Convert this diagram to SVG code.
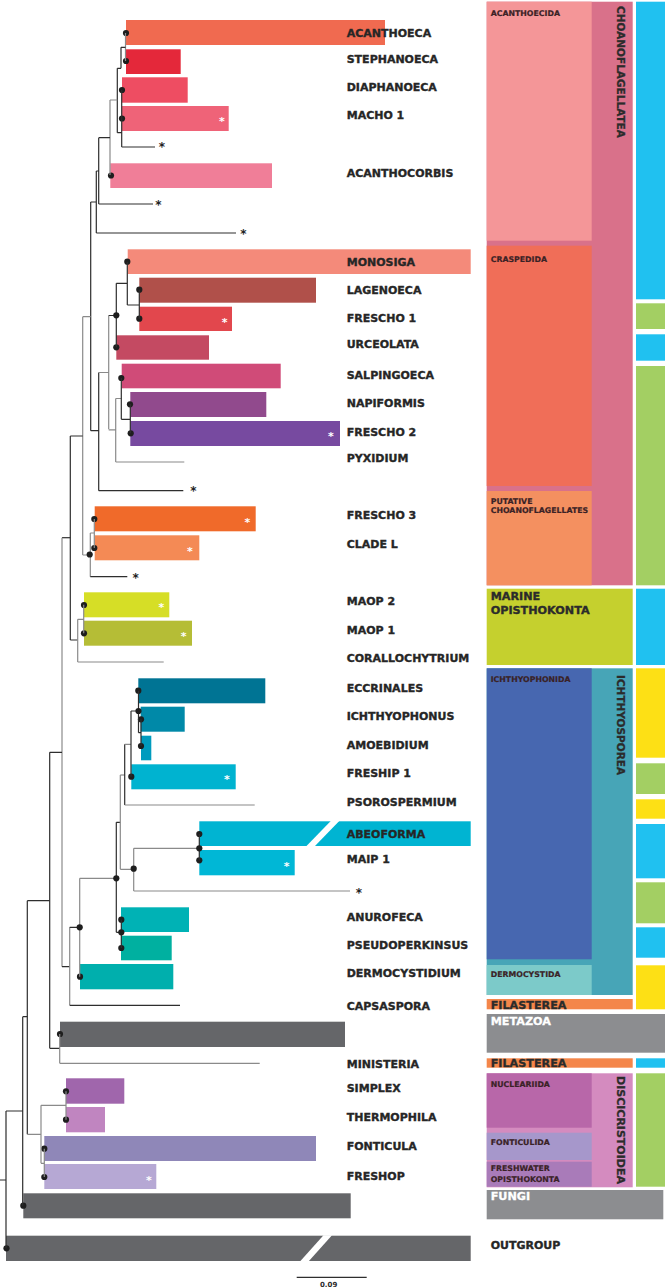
<svg xmlns="http://www.w3.org/2000/svg" width="665" height="1288" viewBox="0 0 665 1288">
<style>
.lab{font-family:"DejaVu Sans",Verdana,sans-serif;font-weight:bold;font-size:11px;fill:#262626;stroke:#262626;stroke-width:0.35}
.sm{font-family:"DejaVu Sans",Verdana,sans-serif;font-weight:bold;font-size:7.8px;fill:#3a2226;stroke:#3a2226;stroke-width:0.2}
.big{font-family:"DejaVu Sans",Verdana,sans-serif;font-weight:bold;font-size:11.2px;fill:#2b2b2b;stroke:#2b2b2b;stroke-width:0.35}
.wb{font-family:"DejaVu Sans",Verdana,sans-serif;font-weight:bold;font-size:11.2px;fill:#ffffff;stroke:#ffffff;stroke-width:0.3}
.vt{font-family:"DejaVu Sans",Verdana,sans-serif;font-weight:bold;font-size:10.5px;fill:#2b2b2b;stroke:#2b2b2b;stroke-width:0.3}
.ws{font-family:"DejaVu Sans",Verdana,sans-serif;font-weight:bold;font-size:11px;fill:#ffffff;text-anchor:middle}
.bs{font-family:"DejaVu Sans",Verdana,sans-serif;font-weight:bold;font-size:12px;fill:#222;text-anchor:middle}
.d{stroke:#2e2e2e;stroke-width:1.2;fill:none}
.g{stroke:#8a8a8a;stroke-width:1.2;fill:none}
.dot{fill:#1e1e1e}
.gray{fill:#656669}
</style>
<rect x="0" y="0" width="665" height="1288" fill="#ffffff"/>

<!-- bars and leaf nodes -->
<g id="acanthoeca"><rect x="126" y="20" width="259" height="25" fill="#F06A50"/><circle class="dot" cx="126" cy="33" r="3.1"/><text class="lab" x="346.7" y="37.3">ACANTHOECA</text></g>
<g id="stephanoeca"><rect x="126" y="49.3" width="54.7" height="24.7" fill="#E4283A"/><circle class="dot" cx="126" cy="61" r="3.1"/><text class="lab" x="346.7" y="62.7">STEPHANOECA</text></g>
<g id="diaphanoeca"><rect x="122" y="77.3" width="65.7" height="25.4" fill="#EE4D62"/><circle class="dot" cx="122" cy="90" r="3.1"/><text class="lab" x="346.7" y="90.7">DIAPHANOECA</text></g>
<g id="macho1"><rect x="122" y="106" width="106.7" height="25" fill="#EF6378"/><circle class="dot" cx="122" cy="118.5" r="3.1"/><text class="ws" x="222" y="125">*</text><text class="lab" x="346.7" y="119.3">MACHO 1</text></g>
<g id="acanthocorbis"><rect x="110.3" y="163.3" width="161.7" height="24.7" fill="#F07E98"/><circle class="dot" cx="111" cy="175.5" r="3.1"/><text class="lab" x="346.7" y="176.7">ACANTHOCORBIS</text></g>
<g id="monosiga"><rect x="127.7" y="249.3" width="343" height="24.7" fill="#F48A7A"/><circle class="dot" cx="127.3" cy="261.7" r="3.1"/><text class="lab" x="346.7" y="265.7">MONOSIGA</text></g>
<g id="lagenoeca"><rect x="139.3" y="277.7" width="176.7" height="25" fill="#B0504A"/><circle class="dot" cx="139.3" cy="289.7" r="3.1"/><text class="lab" x="346.7" y="294">LAGENOECA</text></g>
<g id="frescho1"><rect x="139.3" y="306.7" width="92.7" height="24.3" fill="#E2474D"/><circle class="dot" cx="139.3" cy="318.7" r="3.1"/><text class="ws" x="224.7" y="325.5">*</text><text class="lab" x="346.7" y="322.3">FRESCHO 1</text></g>
<g id="urceolata"><rect x="116.3" y="335.3" width="92.7" height="24.4" fill="#C44A62"/><circle class="dot" cx="116.3" cy="347.3" r="3.1"/><text class="lab" x="346.7" y="348.3">URCEOLATA</text></g>
<g id="salpingoeca"><rect x="121.7" y="363.7" width="159" height="24.6" fill="#D04B78"/><circle class="dot" cx="121.3" cy="378" r="3.1"/><text class="lab" x="346.7" y="378.5">SALPINGOECA</text></g>
<g id="napiformis"><rect x="130.3" y="392" width="136" height="25" fill="#914A8D"/><circle class="dot" cx="130" cy="404.3" r="3.1"/><text class="lab" x="346.7" y="407">NAPIFORMIS</text></g>
<g id="frescho2"><rect x="130.3" y="421" width="209.7" height="25" fill="#774AA0"/><circle class="dot" cx="130.7" cy="433.3" r="3.1"/><text class="ws" x="331" y="440">*</text><text class="lab" x="346.7" y="436.3">FRESCHO 2</text></g>
<g id="pyxidium"><text class="lab" x="346.7" y="461.7">PYXIDIUM</text></g>
<g id="frescho3"><rect x="94.7" y="506.3" width="161" height="25" fill="#F06A2A"/><circle class="dot" cx="94.3" cy="519" r="3.1"/><text class="ws" x="247.3" y="526.2">*</text><text class="lab" x="346.7" y="519.3">FRESCHO 3</text></g>
<g id="cladel"><rect x="94.7" y="535.3" width="104.6" height="25" fill="#F48A55"/><circle class="dot" cx="94.3" cy="548" r="3.1"/><text class="ws" x="190" y="555.2">*</text><text class="lab" x="346.7" y="548.3">CLADE L</text></g>
<g id="maop2"><rect x="84" y="592.3" width="85.3" height="25" fill="#D6DE26"/><circle class="dot" cx="84" cy="605" r="3.1"/><text class="ws" x="161.3" y="611.2">*</text><text class="lab" x="346.7" y="605.3">MAOP 2</text></g>
<g id="maop1"><rect x="84" y="620.7" width="108" height="25" fill="#B5BD36"/><circle class="dot" cx="84" cy="633.3" r="3.1"/><text class="ws" x="183.7" y="640.2">*</text><text class="lab" x="346.7" y="634.3">MAOP 1</text></g>
<g id="corallochytrium"><text class="lab" x="346.7" y="661.7">CORALLOCHYTRIUM</text></g>
<g id="eccrinales"><rect x="138.3" y="678.3" width="127" height="25" fill="#007494"/><circle class="dot" cx="138.3" cy="690.7" r="3.1"/><text class="lab" x="346.7" y="691.7">ECCRINALES</text></g>
<g id="ichthyophonus"><rect x="140.7" y="706.7" width="44" height="25" fill="#0089A8"/><circle class="dot" cx="141" cy="719.3" r="3.1"/><text class="lab" x="346.7" y="720.3">ICHTHYOPHONUS</text></g>
<g id="amoebidium"><rect x="141" y="735.7" width="10.3" height="24.6" fill="#009BBE"/><circle class="dot" cx="141" cy="746" r="3.1"/><text class="lab" x="346.7" y="748.7">AMOEBIDIUM</text></g>
<g id="freship1"><rect x="131.3" y="764.3" width="104.4" height="25" fill="#00B3D0"/><circle class="dot" cx="131.3" cy="776.7" r="3.1"/><text class="ws" x="227" y="783.2">*</text><text class="lab" x="346.7" y="777.3">FRESHIP 1</text></g>
<g id="psorospermium"><text class="lab" x="346.7" y="806">PSOROSPERMIUM</text></g>
<g id="abeoforma"><rect x="199.3" y="821.3" width="271.4" height="24.7" fill="#00B4D2"/><polygon points="306,846.5 314.5,846.5 339.5,820.8 331,820.8" fill="#ffffff"/><circle class="dot" cx="199.3" cy="834" r="3.1"/><text class="lab" x="346.7" y="837.7">ABEOFORMA</text></g>
<g id="maip1"><rect x="199.3" y="850" width="95.4" height="25.3" fill="#00B7D6"/><circle class="dot" cx="199.3" cy="860.3" r="3.1"/><text class="ws" x="286.7" y="869.5">*</text><text class="lab" x="346.7" y="863.3">MAIP 1</text></g>
<g id="anurofeca"><rect x="121" y="907.3" width="68" height="24.7" fill="#00B2B5"/><circle class="dot" cx="121.3" cy="919.7" r="3.1"/><text class="lab" x="346.7" y="920.7">ANUROFECA</text></g>
<g id="pseudoperkinsus"><rect x="121" y="935.7" width="50.7" height="24.6" fill="#00B0A0"/><circle class="dot" cx="121.3" cy="948" r="3.1"/><text class="lab" x="346.7" y="949">PSEUDOPERKINSUS</text></g>
<g id="dermocystidium"><rect x="80" y="964" width="93.3" height="25.3" fill="#00AFAD"/><circle class="dot" cx="80" cy="976.7" r="3.1"/><text class="lab" x="346.7" y="977.3">DERMOCYSTIDIUM</text></g>
<g id="capsaspora"><text class="lab" x="346.7" y="1009.7">CAPSASPORA</text></g>
<g id="metazoa-bar"><rect class="gray" x="60" y="1021.7" width="285" height="25.3"/><circle class="dot" cx="60" cy="1034" r="3.1"/></g>
<g id="ministeria"><text class="lab" x="346.7" y="1068">MINISTERIA</text></g>
<g id="simplex"><rect x="66" y="1078.3" width="58.3" height="25.4" fill="#A066AC"/><circle class="dot" cx="66" cy="1091.3" r="3.1"/><text class="lab" x="346.7" y="1092.3">SIMPLEX</text></g>
<g id="thermophila"><rect x="66" y="1107" width="39" height="25.3" fill="#C085C0"/><circle class="dot" cx="66" cy="1119.7" r="3.1"/><text class="lab" x="346.7" y="1120.7">THERMOPHILA</text></g>
<g id="fonticula"><rect x="44.3" y="1136" width="271.7" height="25" fill="#8F87B8"/><circle class="dot" cx="44.3" cy="1148.7" r="3.1"/><text class="lab" x="346.7" y="1149.7">FONTICULA</text></g>
<g id="freshop"><rect x="44.3" y="1164" width="112" height="25" fill="#B6A8D4"/><circle class="dot" cx="44.3" cy="1177" r="3.1"/><text class="ws" x="149" y="1184.2">*</text><text class="lab" x="346.7" y="1179.7">FRESHOP</text></g>
<g id="fungi-bar"><rect class="gray" x="23.3" y="1193.3" width="327.4" height="25"/><circle class="dot" cx="23.3" cy="1205.7" r="3.1"/></g>
<g id="outgroup"><rect class="gray" x="6" y="1235.7" width="464.7" height="25.3"/><polygon points="300,1261.5 308.5,1261.5 332,1235.2 323.5,1235.2" fill="#ffffff"/><circle class="dot" cx="6.5" cy="1248.3" r="3.1"/><text class="lab" x="490.7" y="1249">OUTGROUP</text></g>

<!-- unlabeled tips -->
<g id="tips">
<text class="bs" x="162" y="151.4">*</text>
<text class="bs" x="158.3" y="209">*</text>
<text class="bs" x="243.3" y="237.7">*</text>
<text class="bs" x="193.3" y="495">*</text>
<text class="bs" x="135.7" y="582">*</text>
<text class="bs" x="359" y="896.7">*</text>
</g>

<!-- connectors -->
<g id="connectors">
<path class="g" d="M125.5 33V61"/>
<path class="d" d="M121 47.3H125.5M121 47.3V68.3M117.3 68.3H121M117.3 68.3V132.7M117.3 132.7H121.7M121.7 90V147M121.7 147H155"/>
<path class="g" d="M110 100H117.3M110 100V175"/>
<path class="d" d="M98.7 137.7H110M98.7 137.7V204M98.7 204H153M96.3 171H98.7M96.3 171V233M96.3 233H236M90.7 202H96.3"/>
<path class="d" d="M90.7 202V430.7M90.7 430.7H98.7M98.7 372.5V490.7M98.7 490.7H183.3"/>
<path class="g" d="M82.7 316.7H90.7M98.7 372.5H108.7M108.7 315.5V429.3"/>
<path class="d" d="M108.7 315.5H116.3M116.3 283.3V347.3M116.3 283.3H127.3M127.3 261.7V305M127.3 305H139.3M139.3 289.7V318.7"/>
<path class="g" d="M108.7 429.8H115.7M115.7 398.5V462M115.7 462H184.3M115.7 398.5H121.3"/>
<path class="d" d="M121.3 378V419.3M121.3 419.3H130.3M130.3 404.3V433.3"/>
<path class="g" d="M82.7 316.7V555M82.7 555H90.3M90.3 533V576.7M90.3 533H94.3M94.3 519V548"/>
<path class="d" d="M90.3 576.7H127.3"/>
<path class="d" d="M70.3 436H82.7M70.3 436V640M70.3 640H77.7"/>
<path class="g" d="M77.7 619.3V662M77.7 619.3H83.7M83.7 604.7V633.3M77.7 662H163.7"/>
<path class="d" d="M62 537.7H70.3"/>
<path class="g" d="M62 537.7V966.7"/>
<path class="d" d="M49.7 752.3H62M62 966.7H69.7"/>
<path class="g" d="M69.7 927.3V1005.3"/>
<path class="d" d="M69.7 1005.3H180M69.7 927.3H79.7"/>
<path class="g" d="M79.7 878.3V976.7M79.7 878.3H116.3"/>
<path class="d" d="M116.3 822.3V932.3M116.3 932.3H121.3M121.3 919.7V948M116.3 822.3H120.3"/>
<path class="g" d="M120.3 775V869.3M120.3 869.3H133.7M133.7 848.3V891M133.7 891H350M133.7 848.3H199.3"/>
<path class="d" d="M199.3 834V860.3"/>
<path class="g" d="M120.3 775H124.7"/>
<path class="d" d="M124.7 744.3V805"/>
<path class="g" d="M124.7 805H254.7M124.7 744.3H131"/>
<path class="d" d="M131 711V776.7M131 711H138.5M138.5 690.7V732.7M138.5 732.7H141M141 719.3V746"/>
<path class="d" d="M49.7 752.3V1048.3M49.7 1048.3H59.7"/>
<path class="g" d="M59.7 1034V1063.3M59.7 1063.3H259.7"/>
<path class="d" d="M27.3 900.7H49.7M27.3 900.7V1134.3"/>
<path class="g" d="M27.3 1134.3H41M41 1105.3V1163.3M41 1105.3H66M66 1091.3V1119.7M41 1163.3H44.3M44.3 1148.7V1177"/>
<path class="d" d="M22.7 1016.7H27.3M22.7 1016.7V1205.7M6 1111H22.7M6 1111V1248.3M0 1180H6"/>
<g id="node-dots">
<circle class="dot" cx="116.3" cy="315.3" r="3.1"/>
<circle class="dot" cx="89.7" cy="554.5" r="3.1"/>
<circle class="dot" cx="138.5" cy="711" r="3.1"/>
<circle class="dot" cx="199.3" cy="848.3" r="3.1"/>
<circle class="dot" cx="133.7" cy="868.7" r="3.1"/>
<circle class="dot" cx="116.3" cy="878.3" r="3.1"/>
<circle class="dot" cx="121.3" cy="932.3" r="3.1"/>
<circle class="dot" cx="79.7" cy="927.3" r="3.1"/>
</g>
</g>

<!-- scale bar -->
<g id="scale">
<path class="d" d="M296.7 1277.3H366.7"/>
<text x="320" y="1287" style="font-family:'DejaVu Sans',sans-serif;font-weight:bold;font-size:7px;fill:#2b2b2b">0.09</text>
</g>

<!-- right classification panel -->
<g id="choanoflagellatea">
<rect x="486.7" y="1.7" width="146" height="583.6" fill="#D9718A"/>
<text class="vt" transform="translate(617.3,6) rotate(90)">CHOANOFLAGELLATEA</text>
</g>
<g id="acanthoecida"><rect x="486.7" y="1.7" width="105" height="239" fill="#F49698"/><text class="sm" x="490.7" y="15.7">ACANTHOECIDA</text></g>
<g id="craspedida"><rect x="486.7" y="245.7" width="105" height="240.3" fill="#F06E58"/><text class="sm" x="490.7" y="261.7">CRASPEDIDA</text></g>
<g id="putative"><rect x="486.7" y="491" width="105" height="94.3" fill="#F49060"/><text class="sm" x="490.7" y="504">PUTATIVE</text><text class="sm" x="490.7" y="513.3">CHOANOFLAGELLATES</text></g>
<g id="marine-opisthokonta"><rect x="486.7" y="588.7" width="146" height="76.3" fill="#C5D02E"/><text class="big" x="490.7" y="600">MARINE</text><text class="big" x="490.7" y="614">OPISTHOKONTA</text></g>
<g id="ichthyosporea"><rect x="486.7" y="668.3" width="146" height="326.7" fill="#47A5B7"/><text class="vt" transform="translate(617.3,675) rotate(90)">ICHTHYOSPOREA</text></g>
<g id="ichthyophonida"><rect x="486.7" y="668.3" width="105" height="291" fill="#4767B0"/><text class="sm" x="490.7" y="681.7">ICHTHYOPHONIDA</text></g>
<g id="dermocystida"><rect x="486.7" y="965" width="105" height="30" fill="#7CCAC9"/><text class="sm" x="490.7" y="977.3">DERMOCYSTIDA</text></g>
<g id="filasterea1"><rect x="486.7" y="999" width="146" height="10.3" fill="#F4864A"/><text class="big" x="490.7" y="1008.5">FILASTEREA</text></g>
<g id="metazoa"><rect x="486.7" y="1014" width="178.3" height="38.7" fill="#8C8D90"/><text class="wb" x="490.7" y="1025">METAZOA</text></g>
<g id="filasterea2"><rect x="486.7" y="1058.3" width="146" height="9.4" fill="#F4864A"/><text class="big" x="490.7" y="1067.3">FILASTEREA</text></g>
<g id="discicristoidea"><rect x="486.7" y="1073.3" width="146" height="114" fill="#D48BBF"/><text class="vt" style="font-size:11px" transform="translate(617.3,1076) rotate(90)">DISCICRISTOIDEA</text></g>
<g id="nucleariida"><rect x="486.7" y="1073.3" width="105" height="54.4" fill="#B867A9"/><text class="sm" x="490.7" y="1086.7">NUCLEARIIDA</text></g>
<g id="fonticulida"><rect x="486.7" y="1132.7" width="105" height="27.3" fill="#A697CB"/><text class="sm" x="490.7" y="1144.7">FONTICULIDA</text></g>
<g id="freshwater-opisthokonta"><rect x="486.7" y="1161.7" width="105" height="25" fill="#A97BB9"/><text class="sm" x="490.7" y="1170.7">FRESHWATER</text><text class="sm" x="490.7" y="1181.7">OPISTHOKONTA</text></g>
<g id="fungi"><rect x="486.7" y="1190" width="176.6" height="29.3" fill="#8C8D90"/><text class="wb" x="490.7" y="1200">FUNGI</text></g>

<g id="habitat">
<rect x="636" y="1.7" width="29" height="297.6" fill="#20C1F0"/>
<rect x="636" y="303.3" width="29" height="25.7" fill="#A3CF63"/>
<rect x="636" y="334.3" width="29" height="26.4" fill="#20C1F0"/>
<rect x="636" y="366" width="29" height="219.3" fill="#A3CF63"/>
<rect x="636" y="588.7" width="29" height="76.3" fill="#20C1F0"/>
<rect x="636" y="668.3" width="29" height="89.4" fill="#FDE015"/>
<rect x="636" y="763.3" width="29" height="30.7" fill="#A3CF63"/>
<rect x="636" y="799.3" width="29" height="19.4" fill="#FDE015"/>
<rect x="636" y="824" width="29" height="54.3" fill="#20C1F0"/>
<rect x="636" y="882.3" width="29" height="41" fill="#A3CF63"/>
<rect x="636" y="927.3" width="29" height="30.4" fill="#20C1F0"/>
<rect x="636" y="965.3" width="29" height="44" fill="#FDE015"/>
<rect x="636" y="1058.3" width="29" height="9.4" fill="#20C1F0"/>
<rect x="636" y="1073.3" width="29" height="113.4" fill="#A3CF63"/>
</g>
</svg>
